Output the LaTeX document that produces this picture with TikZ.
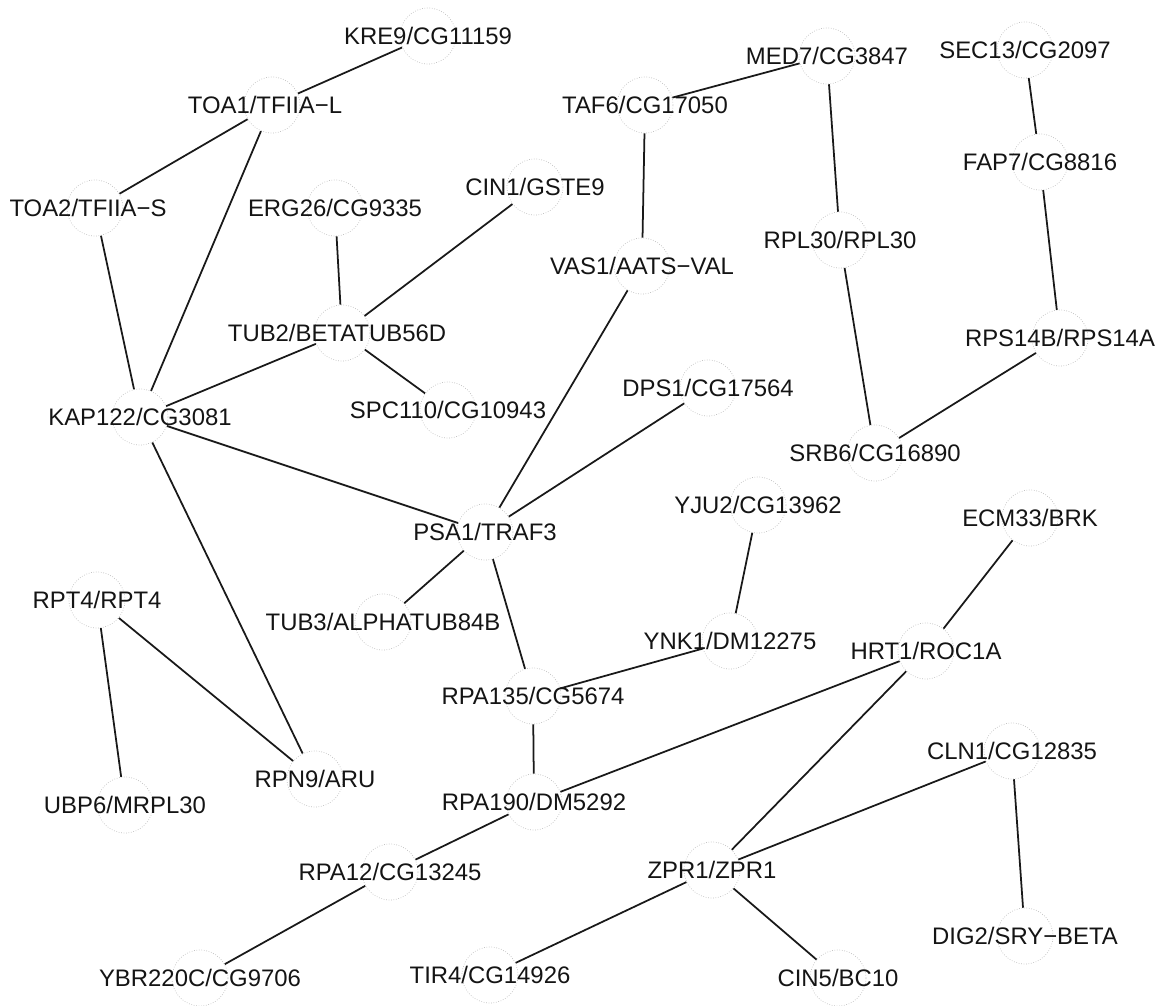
\documentclass[tikz,border=0pt]{standalone}
\usepackage{fontspec}
\setmainfont{Liberation Sans}
\definecolor{xring}{RGB}{190,190,190}
\definecolor{xtext}{RGB}{20,20,20}

\begin{document}
\begin{tikzpicture}[x=0.02cm,y=-0.02cm]
\tikzset{gene/.style={circle,draw=xring,densely dotted,minimum size=1.12cm,inner sep=0pt}}
\tikzset{every label/.style={text=xtext,font=\fontsize{13.6}{16}\selectfont}}
\tikzset{link/.style={draw=black!90,line width=1pt}}
\useasboundingbox (0,0) rectangle (1163,1006);
% upper left group
\node[gene,label=center:{KRE9/CG11159}] at (428,36) (kre9) {};
\node[gene,label={[xshift=-0.14cm]center:{TOA1/TFIIA−L}}] at (272,105) (toa1) {};
\node[gene,label={[xshift=-0.14cm]center:{TOA2/TFIIA−S}}] at (95,208) (toa2) {};
\node[gene,label=center:{ERG26/CG9335}] at (335,208) (erg26) {};
\node[gene,label=center:{CIN1/GSTE9}] at (535,187) (cin1) {};
\node[gene,label={[xshift=-0.1cm]center:{TUB2/BETATUB56D}}] at (342,333) (tub2) {};
\node[gene,label=center:{KAP122/CG3081}] at (140,417) (kap122) {};
\node[gene,label=center:{SPC110/CG10943}] at (448,410) (spc110) {};
% upper right group
\node[gene,label=center:{TAF6/CG17050}] at (645,105) (taf6) {};
\node[gene,label=center:{VAS1/AATS−VAL}] at (642,266) (vas1) {};
\node[gene,label=center:{MED7/CG3847}] at (827,56) (med7) {};
\node[gene,label=center:{SEC13/CG2097}] at (1025,50) (sec13) {};
\node[gene,label=center:{FAP7/CG8816}] at (1040,162) (fap7) {};
\node[gene,label=center:{RPL30/RPL30}] at (840,240) (rpl30) {};
\node[gene,label=center:{RPS14B/RPS14A}] at (1060,338) (rps14b) {};
\node[gene,label=center:{SRB6/CG16890}] at (875,453) (srb6) {};
\node[gene,label=center:{DPS1/CG17564}] at (708,388) (dps1) {};
% middle
\node[gene,label=center:{PSA1/TRAF3}] at (485,532) (psa1) {};
\node[gene,label=center:{TUB3/ALPHATUB84B}] at (383,622) (tub3) {};
\node[gene,label=center:{YJU2/CG13962}] at (758,505) (yju2) {};
\node[gene,label=center:{YNK1/DM12275}] at (730,641) (ynk1) {};
\node[gene,label=center:{ECM33/BRK}] at (1030,518) (ecm33) {};
\node[gene,label=center:{HRT1/ROC1A}] at (926,651) (hrt1) {};
\node[gene,label=center:{RPT4/RPT4}] at (97,600) (rpt4) {};
% lower part
\node[gene,label=center:{RPA135/CG5674}] at (533,696) (rpa135) {};
\node[gene,label=center:{RPA190/DM5292}] at (534,802) (rpa190) {};
\node[gene,label=center:{RPA12/CG13245}] at (390,872) (rpa12) {};
\node[gene,label=center:{YBR220C/CG9706}] at (200,978) (ybr220c) {};
\node[gene,label=center:{RPN9/ARU}] at (315,779) (rpn9) {};
\node[gene,label=center:{UBP6/MRPL30}] at (125,805) (ubp6) {};
\node[gene,label=center:{CLN1/CG12835}] at (1012,751) (cln1) {};
\node[gene,label=center:{ZPR1/ZPR1}] at (712,870) (zpr1) {};
\node[gene,label=center:{DIG2/SRY−BETA}] at (1025,936) (dig2) {};
\node[gene,label=center:{TIR4/CG14926}] at (490,975) (tir4) {};
\node[gene,label=center:{CIN5/BC10}] at (838,978) (cin5) {};
% interactions
\draw[link] (kre9) -- (toa1);
\draw[link] (toa1) -- (toa2);
\draw[link] (toa1) -- (kap122);
\draw[link] (toa2) -- (kap122);
\draw[link] (erg26) -- (tub2);
\draw[link] (cin1) -- (tub2);
\draw[link] (tub2) -- (kap122);
\draw[link] (tub2) -- (spc110);
\draw[link] (kap122) -- (psa1);
\draw[link] (kap122) -- (rpn9);
\draw[link] (taf6) -- (med7);
\draw[link] (taf6) -- (vas1);
\draw[link] (vas1) -- (psa1);
\draw[link] (dps1) -- (psa1);
\draw[link] (psa1) -- (tub3);
\draw[link] (psa1) -- (rpa135);
\draw[link] (med7) -- (rpl30);
\draw[link] (rpl30) -- (srb6);
\draw[link] (sec13) -- (fap7);
\draw[link] (fap7) -- (rps14b);
\draw[link] (rps14b) -- (srb6);
\draw[link] (yju2) -- (ynk1);
\draw[link] (ynk1) -- (rpa135);
\draw[link] (ecm33) -- (hrt1);
\draw[link] (hrt1) -- (rpa190);
\draw[link] (hrt1) -- (zpr1);
\draw[link] (rpa135) -- (rpa190);
\draw[link] (rpa190) -- (rpa12);
\draw[link] (rpa12) -- (ybr220c);
\draw[link] (rpt4) -- (ubp6);
\draw[link] (rpt4) -- (rpn9);
\draw[link] (zpr1) -- (cln1);
\draw[link] (zpr1) -- (tir4);
\draw[link] (zpr1) -- (cin5);
\draw[link] (cln1) -- (dig2);
\end{tikzpicture}
\end{document}
